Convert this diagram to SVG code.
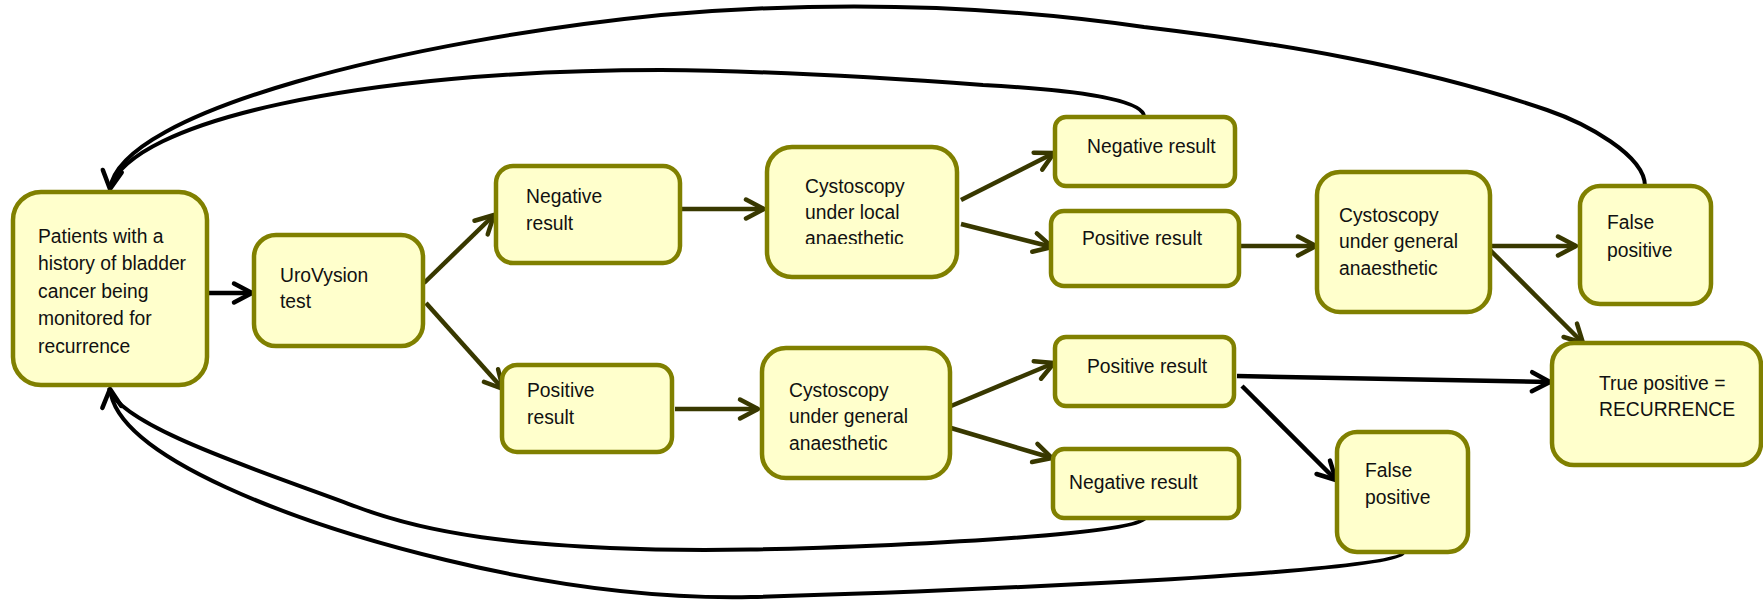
<svg xmlns="http://www.w3.org/2000/svg" width="1763" height="601" viewBox="0 0 1763 601">
  <style>
    .box { fill: #ffffcc; stroke: #808000; stroke-width: 4.5; }
    .t { font-family: "Liberation Sans", Arial, sans-serif; font-size: 21px; fill: #111; }
    .ol { fill: none; stroke: #383800; stroke-width: 4.5; }
    .bk { fill: none; stroke: #000; stroke-width: 4.5; }
    .loop { fill: none; stroke: #000; stroke-width: 4; }
  </style>
  <defs>
    <marker id="ah-olive" viewBox="0 0 26 26" markerWidth="26" markerHeight="26" refX="22" refY="13" orient="auto" markerUnits="userSpaceOnUse" overflow="visible">
      <path d="M4,3.5 L22,13 L4,22.5" fill="none" stroke="#383800" stroke-width="4.5" stroke-linecap="round" stroke-linejoin="round"/>
    </marker>
    <marker id="ah-black" viewBox="0 0 26 26" markerWidth="26" markerHeight="26" refX="22" refY="13" orient="auto" markerUnits="userSpaceOnUse" overflow="visible">
      <path d="M4,3.5 L22,13 L4,22.5" fill="none" stroke="#000" stroke-width="4.5" stroke-linecap="round" stroke-linejoin="round"/>
    </marker>
    <clipPath id="clip-local">
      <rect x="760" y="140" width="200" height="104"/>
    </clipPath>
  </defs>

  <rect width="1763" height="601" fill="#fff"/>

  <!-- connectors -->
  <g id="connectors">
    <!-- forward flow -->
    <line class="bk" x1="209" y1="293" x2="252" y2="293" marker-end="url(#ah-black)"/>
    <line class="ol" x1="424" y1="283" x2="494" y2="215" marker-end="url(#ah-olive)"/>
    <line class="ol" x1="426" y1="303" x2="503" y2="389" marker-end="url(#ah-olive)"/>
    <line class="ol" x1="682" y1="209" x2="764" y2="209" marker-end="url(#ah-olive)"/>
    <line class="ol" x1="961" y1="200" x2="1054" y2="153" marker-end="url(#ah-olive)"/>
    <line class="ol" x1="961" y1="224" x2="1052" y2="247" marker-end="url(#ah-olive)"/>
    <line class="ol" x1="1238" y1="246" x2="1316" y2="246" marker-end="url(#ah-olive)"/>
    <line class="ol" x1="1492" y1="246" x2="1576" y2="246" marker-end="url(#ah-olive)"/>
    <line class="ol" x1="1489" y1="249" x2="1583" y2="343" marker-end="url(#ah-olive)"/>
    <line class="ol" x1="675" y1="409" x2="758" y2="409" marker-end="url(#ah-olive)"/>
    <line class="ol" x1="951" y1="406" x2="1054" y2="363" marker-end="url(#ah-olive)"/>
    <line class="ol" x1="951" y1="428" x2="1052" y2="458" marker-end="url(#ah-olive)"/>
    <line class="bk" x1="1237" y1="376" x2="1550" y2="382" marker-end="url(#ah-black)"/>
    <line class="bk" x1="1242" y1="386" x2="1336" y2="480" marker-end="url(#ah-black)"/>

    <!-- return loops back to the monitored patients -->
    <path class="loop" d="M1144,116 C1142,100 1080,90 983,85 C876,77 768,71 661,70 C361,70 131,121 110,188"/>
    <path class="loop" marker-end="url(#ah-black)" d="M1645,186 C1645,155 1585,123 1547,110 C1419,66 1278,43 1144,27 C985,4 821,1 661,15 C413,40 120,110 110,189"/>
    <path class="loop" d="M1145,518 C1137,532 976,541 891,545 C797,549 704,552 610,548 C526,544 436,537 357,507 C273,475 119,427 109,388"/>
    <path class="loop" marker-end="url(#ah-black)" d="M1403,553 C1397,566 1201,578 1101,583 C984,589 868,594 751,597 C651,599 545,584 446,560 C300,525 117,458 110,389"/>
  </g>

  <g id="patients">
    <rect class="box" x="13" y="192" width="194" height="193" rx="28"/>
    <text class="t" transform="translate(38 243) scale(.92 1)">
      <tspan x="0" y="0">Patients with a</tspan>
      <tspan x="0" y="27.5">history of bladder</tspan>
      <tspan x="0" y="55">cancer being</tspan>
      <tspan x="0" y="82.5">monitored for</tspan>
      <tspan x="0" y="110">recurrence</tspan>
    </text>
  </g>

  <g id="urovysion">
    <rect class="box" x="254" y="235" width="169" height="111" rx="22"/>
    <text class="t" transform="translate(280 282) scale(.92 1)">
      <tspan x="0" y="0">UroVysion</tspan>
      <tspan x="0" y="26.5">test</tspan>
    </text>
  </g>

  <g id="negative-1">
    <rect class="box" x="496" y="166" width="184" height="97" rx="17"/>
    <text class="t" transform="translate(526 203) scale(.92 1)">
      <tspan x="0" y="0">Negative</tspan>
      <tspan x="0" y="27">result</tspan>
    </text>
  </g>

  <g id="cystoscopy-local">
    <rect class="box" x="767" y="147" width="190" height="130" rx="25"/>
    <g clip-path="url(#clip-local)">
      <text class="t" transform="translate(805 193) scale(.92 1)">
        <tspan x="0" y="0">Cystoscopy</tspan>
        <tspan x="0" y="26">under local</tspan>
        <tspan x="0" y="52">anaesthetic</tspan>
      </text>
    </g>
  </g>

  <g id="negative-2">
    <rect class="box" x="1055" y="117" width="180" height="69" rx="11"/>
    <text class="t" transform="translate(1087 153) scale(.92 1)">Negative result</text>
  </g>

  <g id="positive-2">
    <rect class="box" x="1051" y="211" width="188" height="75" rx="13"/>
    <text class="t" transform="translate(1082 245) scale(.92 1)">Positive result</text>
  </g>

  <g id="cystoscopy-general-1">
    <rect class="box" x="1317" y="172" width="173" height="140" rx="23"/>
    <text class="t" transform="translate(1339 222) scale(.92 1)">
      <tspan x="0" y="0">Cystoscopy</tspan>
      <tspan x="0" y="26.5">under general</tspan>
      <tspan x="0" y="53">anaesthetic</tspan>
    </text>
  </g>

  <g id="false-positive-1">
    <rect class="box" x="1580" y="186" width="131" height="118" rx="20"/>
    <text class="t" transform="translate(1607 229) scale(.92 1)">
      <tspan x="0" y="0">False</tspan>
      <tspan x="0" y="28">positive</tspan>
    </text>
  </g>

  <g id="true-positive">
    <rect class="box" x="1552" y="343" width="209" height="122" rx="22"/>
    <text class="t" transform="translate(1599 390) scale(.92 1)">
      <tspan x="0" y="0">True positive =</tspan>
      <tspan x="0" y="26.5">RECURRENCE</tspan>
    </text>
  </g>

  <g id="positive-1">
    <rect class="box" x="502" y="365" width="170" height="87" rx="15"/>
    <text class="t" transform="translate(527 397) scale(.92 1)">
      <tspan x="0" y="0">Positive</tspan>
      <tspan x="0" y="27">result</tspan>
    </text>
  </g>

  <g id="cystoscopy-general-2">
    <rect class="box" x="762" y="348" width="188" height="130" rx="24"/>
    <text class="t" transform="translate(789 397) scale(.92 1)">
      <tspan x="0" y="0">Cystoscopy</tspan>
      <tspan x="0" y="26.5">under general</tspan>
      <tspan x="0" y="53">anaesthetic</tspan>
    </text>
  </g>

  <g id="positive-3">
    <rect class="box" x="1055" y="337" width="179" height="69" rx="11"/>
    <text class="t" transform="translate(1087 373) scale(.92 1)">Positive result</text>
  </g>

  <g id="negative-3">
    <rect class="box" x="1053" y="449" width="186" height="69" rx="11"/>
    <text class="t" transform="translate(1069 489) scale(.92 1)">Negative result</text>
  </g>

  <g id="false-positive-2">
    <rect class="box" x="1337" y="432" width="131" height="120" rx="20"/>
    <text class="t" transform="translate(1365 477) scale(.92 1)">
      <tspan x="0" y="0">False</tspan>
      <tspan x="0" y="27">positive</tspan>
    </text>
  </g>
</svg>
